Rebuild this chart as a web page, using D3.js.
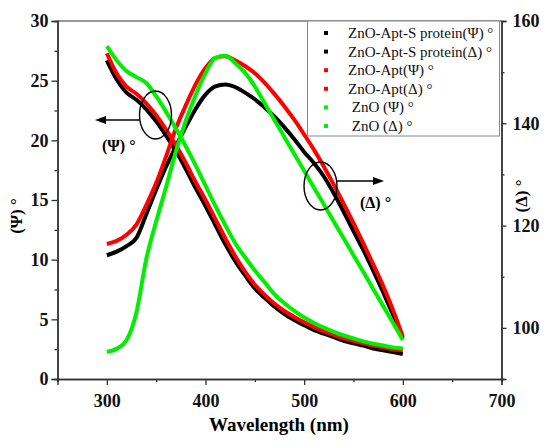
<!DOCTYPE html>
<html><head><meta charset="utf-8">
<script src="https://cdn.jsdelivr.net/npm/d3@7"></script>
<style>
body{margin:0;background:#fff}
text{font-family:"Liberation Serif","Times New Roman",serif}
</style>
</head><body>
<svg id="c" width="554" height="448"></svg>
<script>
// ---- data ----
const wavelengths = [300,310,320,330,340,350,360,370,380,390,400,410,420,430,440,450,460,470,480,490,500,510,520,530,540,550,560,570,580,590,600];

const psiAptS   = [26.7,25.1,24.0,23.4,22.6,21.6,20.4,19.1,17.6,16.0,14.5,12.9,11.3,9.9,8.7,7.6,6.8,6.05,5.45,4.95,4.5,4.1,3.8,3.5,3.2,3.0,2.8,2.55,2.4,2.25,2.1];
const deltaAptS = [114.2,114.9,116.0,117.6,122.2,127.0,131.5,135.5,139.3,142.8,145.6,147.2,147.6,147.1,146.0,144.7,143.1,141.3,139.2,136.9,134.4,132.2,129.6,126.3,122.7,118.9,115.2,111.2,107.0,102.6,98.0];
const psiApt    = [27.3,25.6,24.5,23.9,23.1,22.1,20.9,19.6,18.1,16.5,15.0,13.4,11.8,10.3,9.0,7.9,7.05,6.3,5.7,5.2,4.75,4.35,4.0,3.7,3.4,3.2,3.0,2.8,2.65,2.5,2.4];
const deltaApt  = [116.4,117.0,118.2,120.2,124.0,128.3,133.5,139.0,143.5,147.6,150.8,152.8,153.1,152.3,151.2,149.8,147.9,145.7,143.3,140.7,137.8,134.8,131.5,128.0,124.3,120.5,116.5,112.4,108.2,103.5,98.3];
const psiZnO    = [27.9,26.7,25.8,25.3,24.8,23.7,22.4,21.0,19.5,17.9,16.2,14.5,12.9,11.4,10.2,9.1,8.1,7.1,6.35,5.7,5.15,4.7,4.3,3.95,3.65,3.4,3.15,2.95,2.8,2.65,2.55];
const deltaZnO  = [95.3,95.9,97.6,103.0,113.5,120.8,127.5,134.5,140.5,145.5,149.8,152.8,153.2,151.8,149.9,147.2,143.9,140.6,137.3,134.0,130.7,127.4,124.1,120.8,117.5,114.2,110.9,107.6,104.3,101.0,97.6];

const seriesNames  = ["ZnO-Apt-S protein(\u03A8) \u00B0","ZnO-Apt-S protein(\u0394) \u00B0","ZnO-Apt(\u03A8) \u00B0","ZnO-Apt(\u0394) \u00B0"," ZnO (\u03A8) \u00B0"," ZnO (\u0394) \u00B0"];
const seriesValues = [psiAptS, deltaAptS, psiApt, deltaApt, psiZnO, deltaZnO];
const seriesAxis   = ["left","right","left","right","left","right"];
const seriesColors = ["#000000","#000000","#ff0000","#ff0000","#00ee00","#00ee00"];

const xDomain = [250,700];
const xTicks = [300,400,500,600,700];
const xMinor = [250,350,450,550,650];
const yLeftDomain = [0,30];
const yLeftTicks = [0,5,10,15,20,25,30];
const yLeftMinor = [2.5,7.5,12.5,17.5,22.5,27.5];
const yRightDomain = [90,160];
const yRightTicks = [100,120,140,160];
const yRightMinor = [90,110,130,150];

// ---- layout ----
const L=57.5, R=501.5, T=21, B=379;
const FAM = '"Liberation Serif","Times New Roman",serif';
const svg = d3.select("#c");
const x = d3.scaleLinear().domain(xDomain).range([L,R]);
const yL = d3.scaleLinear().domain(yLeftDomain).range([B,T]);
const yR = d3.scaleLinear().domain(yRightDomain).range([B,T]);

function setFont(sel,size,weight){
  sel.attr("font-family",FAM).style("font-family",FAM)
     .attr("font-size",size).style("font-size",size+"px")
     .attr("font-weight",weight).style("font-weight",weight);
  return sel;
}

// frame top line
svg.append("line").attr("x1",L).attr("x2",R).attr("y1",T).attr("y2",T).attr("stroke","#333").attr("stroke-width",1.2);

function styleAxis(g){
  g.attr("font-family",FAM);
  g.select(".domain").attr("stroke","#333").attr("stroke-width",1.4);
  g.selectAll(".tick line").attr("stroke","#333").attr("stroke-width",1.3);
  setFont(g.selectAll("text"),18,"bold").attr("fill","#111");
}

// bottom
const gx = svg.append("g").attr("transform",`translate(0,${B})`)
  .call(d3.axisBottom(x).tickValues(xTicks).tickSize(6).tickPadding(9).tickFormat(d3.format("d")));
styleAxis(gx);
const gxm = svg.append("g").attr("transform",`translate(0,${B})`)
  .call(d3.axisBottom(x).tickValues(xMinor).tickSize(3).tickFormat(""));
styleAxis(gxm);

// left
const gy = svg.append("g").attr("transform",`translate(${L},0)`)
  .call(d3.axisLeft(yL).tickValues(yLeftTicks).tickSize(6).tickPadding(3).tickFormat(d3.format("d")));
styleAxis(gy);
const gym = svg.append("g").attr("transform",`translate(${L},0)`)
  .call(d3.axisLeft(yL).tickValues(yLeftMinor).tickSize(3).tickFormat(""));
styleAxis(gym);

// right
const gr = svg.append("g").attr("transform",`translate(${R},0)`)
  .call(d3.axisRight(yR).tickValues(yRightTicks).tickSize(5).tickPadding(6).tickFormat(d3.format("d")));
styleAxis(gr);
const grm = svg.append("g").attr("transform",`translate(${R},0)`)
  .call(d3.axisRight(yR).tickValues(yRightMinor).tickSize(3).tickFormat(""));
styleAxis(grm);

// axis titles
setFont(svg.append("text").attr("x",279).attr("y",431).attr("text-anchor","middle"),19,"bold").text("Wavelength (nm)");
setFont(svg.append("text").attr("transform","translate(22,216) rotate(-90)").attr("text-anchor","middle"),17,"bold").text("(\u03A8) \u00B0");
setFont(svg.append("text").attr("transform","translate(527,196) rotate(-90)").attr("text-anchor","middle"),17,"bold").text("(\u0394) \u00B0");

// ---- series ----
const line = (yScale)=>d3.line().x((d,i)=>x(wavelengths[i])).y(d=>yScale(d)).curve(d3.curveMonotoneX);
const gLines = svg.append("g");
seriesValues.forEach((vals,k)=>{
  const ys = seriesAxis[k]==="left"?yL:yR;
  gLines.append("path").datum(vals).attr("d",line(ys))
    .attr("fill","none").attr("stroke",seriesColors[k]).attr("stroke-width",4)
    .attr("stroke-linejoin","round");
});

// ---- annotations ----
const ann = svg.append("g").attr("stroke","#000").attr("fill","none").attr("stroke-width",1.4);
ann.append("ellipse").attr("cx",155.5).attr("cy",115).attr("rx",16).attr("ry",24);
ann.append("line").attr("x1",139.5).attr("y1",120).attr("x2",103).attr("y2",120);
svg.append("path").attr("d","M95,120 L106,116 L106,124 Z").attr("fill","#000");
setFont(svg.append("text").attr("x",102).attr("y",151),16,"bold").text("(\u03A8) \u00B0");

ann.append("ellipse").attr("cx",320.5).attr("cy",186).attr("rx",16.5).attr("ry",24);
ann.append("line").attr("x1",337).attr("y1",181).attr("x2",375).attr("y2",181);
svg.append("path").attr("d","M384,181 L373,177 L373,185 Z").attr("fill","#000");
setFont(svg.append("text").attr("x",360).attr("y",208),16,"bold").text("(\u0394) \u00B0");

// ---- legend ----
const lg = svg.append("g");
lg.append("rect").attr("x",307.5).attr("y",T).attr("width",192).attr("height",115)
  .attr("fill","#fff").attr("stroke","#888").attr("stroke-width",1);
const rowY = d3.scaleLinear().domain([0,5]).range([33,126]);
seriesNames.forEach((nm,k)=>{
  lg.append("rect").attr("x",324).attr("y",rowY(k)-2).attr("width",4).attr("height",4).attr("fill",seriesColors[k]);
  setFont(lg.append("text").attr("x",348).attr("y",rowY(k)+5).attr("xml:space","preserve"),15,"normal")
    .style("white-space","pre").attr("fill","#111").text(nm);
});
</script>
</body></html>
